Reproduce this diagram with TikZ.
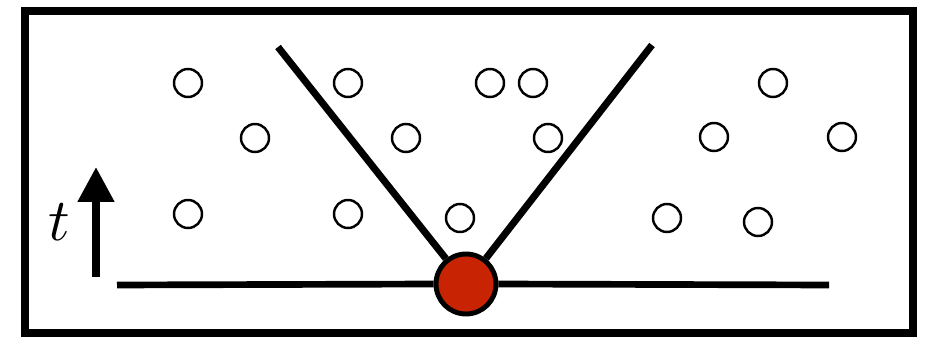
\documentclass[tikz,border=0pt]{standalone}
\usepackage{amsmath,amssymb}
\usepackage{tikz}
\usepackage{xcolor}
\usetikzlibrary{arrows.meta}

\definecolor{eventred}{RGB}{200,36,4}

\begin{document}
\begin{tikzpicture}[x=0.02cm,y=-0.02cm,
  particle/.style={circle,draw=black,line width=1.4pt,minimum size=0.56cm,inner sep=0pt},
  event/.style={circle,draw=black,fill=eventred,line width=2.8pt,minimum size=1.2cm,inner sep=0pt}]
\useasboundingbox (0,0) rectangle (930,337);
\draw[line width=4.5pt] (25,11) rectangle (913,333);
% particles
\foreach \px/\py [count=\i] in {188/83,348/83,490/83,533/83,773/83,
    255/138,406/138,548/138,714/137,842/137,
    188/214,348/214,460/218,667/218,758/222}
  \node[particle] (p\i) at (\px,\py) {};
% time axis
\coordinate (tbot) at (96,277);
\coordinate (ttop) at (96,167);
\draw[line width=4.5pt,-{Triangle[width=19.8pt,length=19.8pt]}] (tbot) -- (ttop);
\node[scale=3.4,inner sep=0pt] (tlabel) at (59,222) {$t$};
% line and cone
\coordinate (lineL) at (117,285);
\coordinate (lineR) at (829,285);
\coordinate (coneL) at (278,47);
\coordinate (coneR) at (652,45);
\node[event] (ev) at (466,284) {};
\draw[line width=3.8pt] (lineL) -- (ev.west);
\draw[line width=3.8pt] (ev.east) -- (lineR);
\draw[line width=4pt] (coneL) -- (ev);
\draw[line width=4pt] (coneR) -- (ev);
\end{tikzpicture}
\end{document}
